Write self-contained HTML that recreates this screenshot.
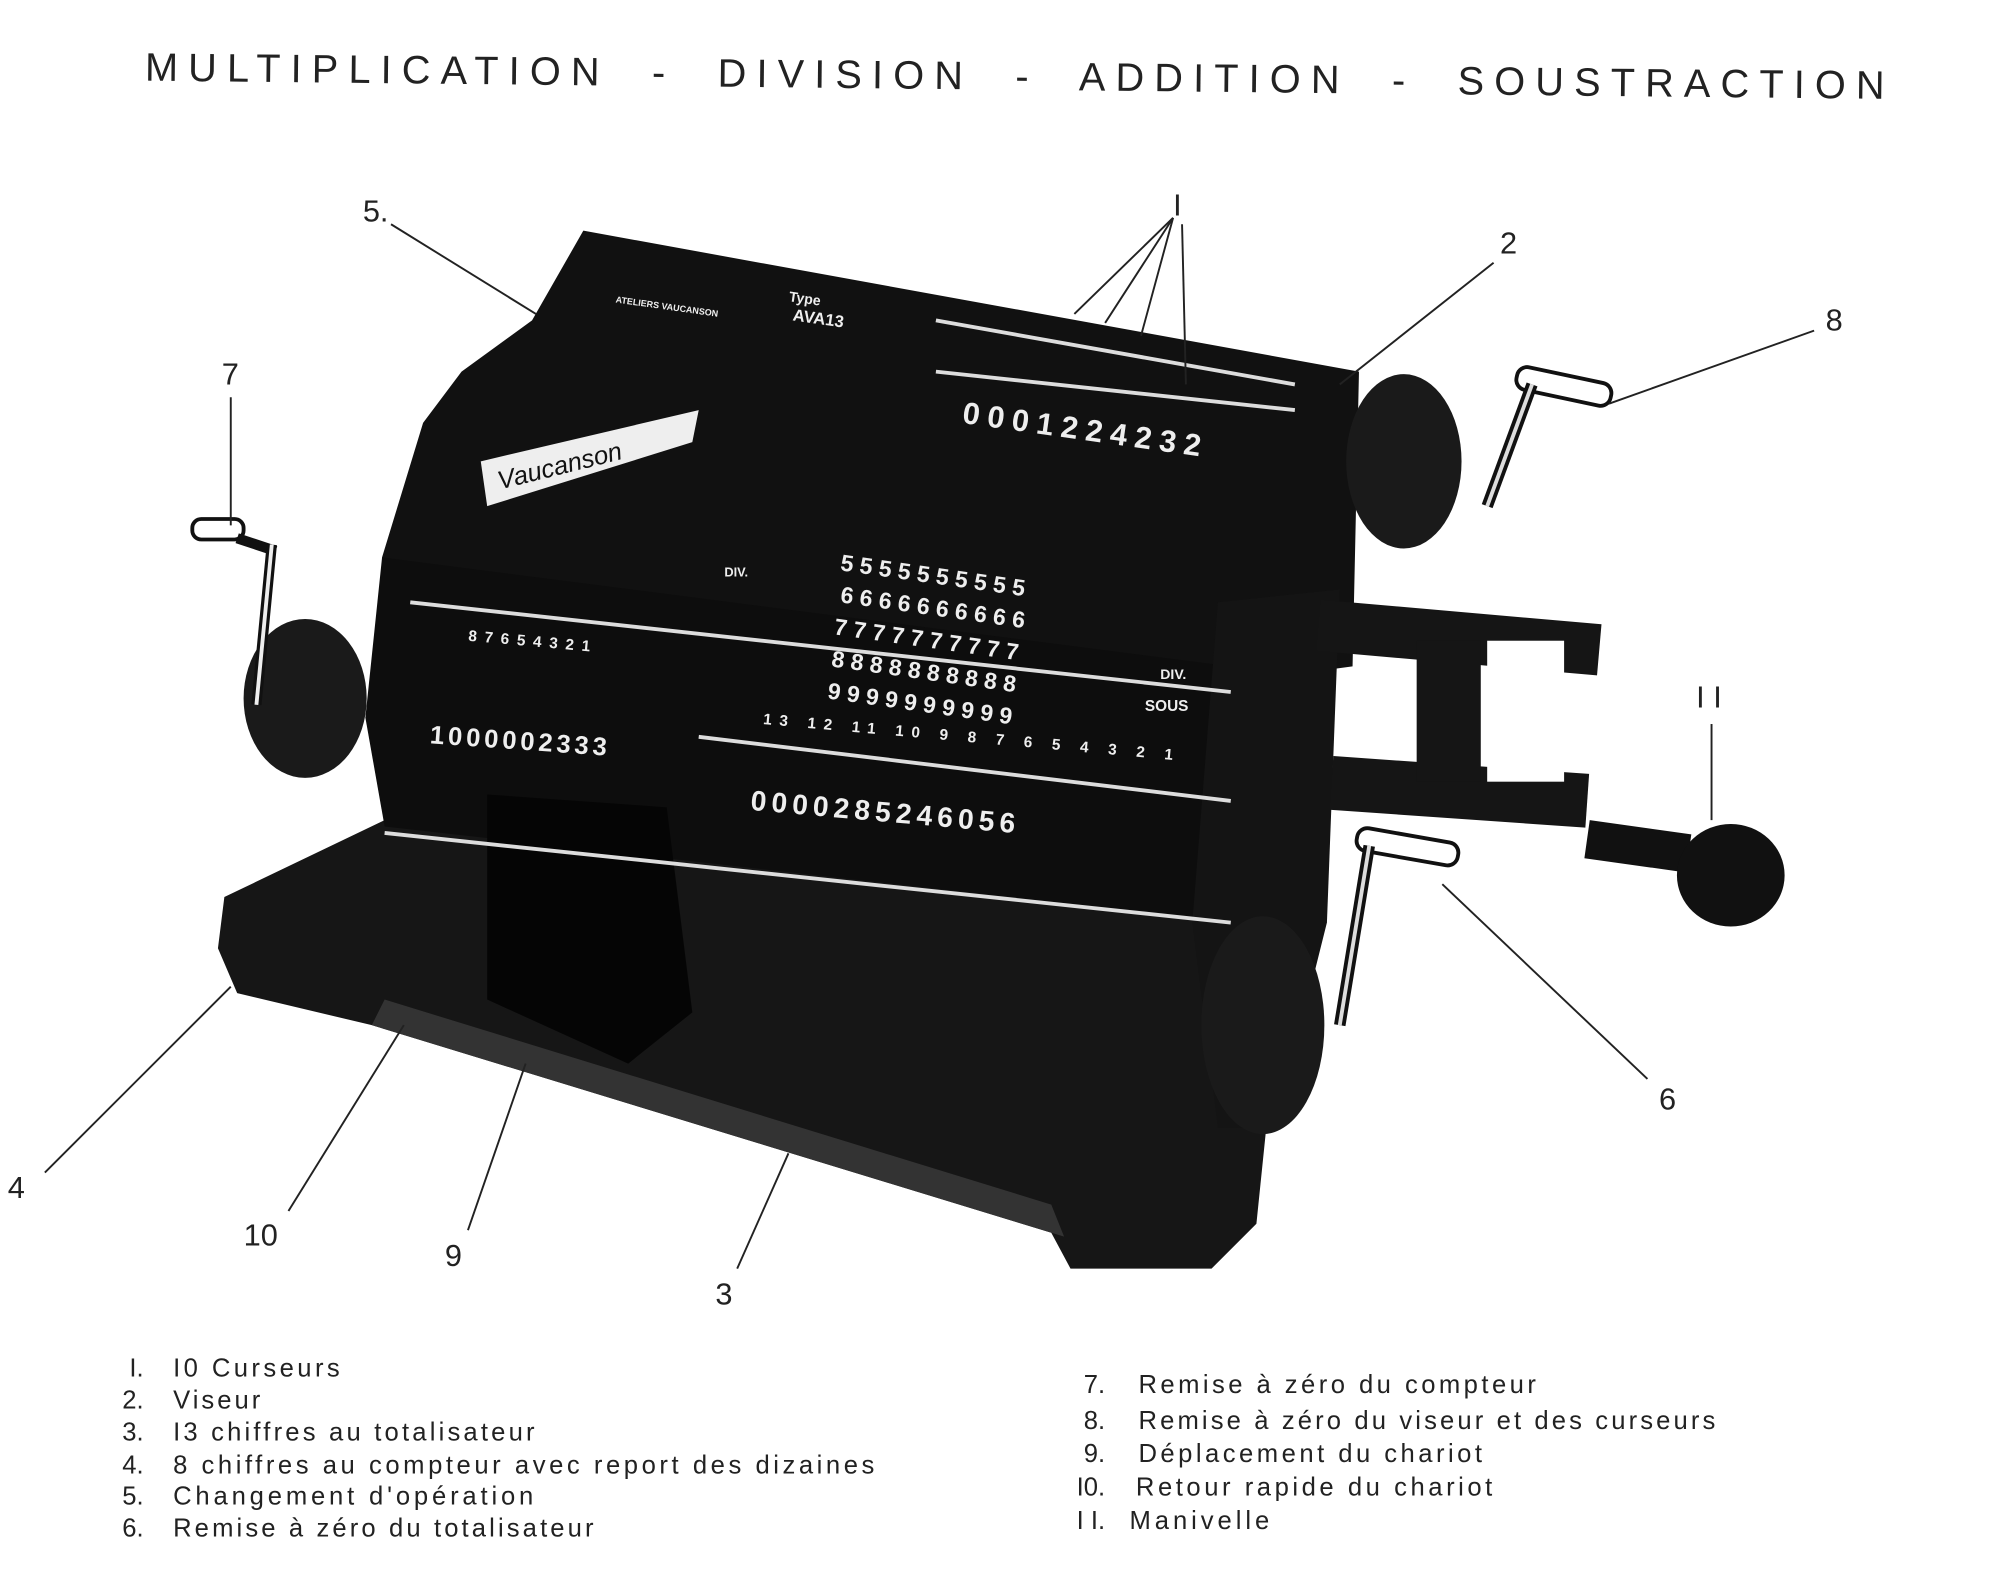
<!DOCTYPE html>
<html><head><meta charset="utf-8"><style>
html,body{margin:0;padding:0;background:#fff}
svg{display:block}
text{font-family:"Liberation Sans",sans-serif}
</style></head><body>
<svg width="2000" height="1589" viewBox="0 0 1560 1240" preserveAspectRatio="none" xmlns="http://www.w3.org/2000/svg">
<rect width="1560" height="1240" fill="#fff"/>
<g transform="rotate(0.6 790 65)">
<text x="113" y="70" font-size="31" textLength="1357" lengthAdjust="spacing" fill="#222" xml:space="preserve">MULTIPLICATION  -  DIVISION  -  ADDITION  -  SOUSTRACTION</text>
</g>
<!-- base -->
<path d="M175,700 L300,640 L960,700 L1000,760 L980,955 L945,990 L835,990 L820,962 L290,800 L185,775 L170,740 Z" fill="#161616"/>
<path d="M300,780 L820,940 L830,965 L290,800 Z" fill="#333"/>
<!-- upper body -->
<path d="M455,180 L1060,290 L1055,520 L870,545 L320,470 L298,435 L330,330 L360,290 L415,250 Z" fill="#111"/>
<path d="M298,435 L960,520 L985,560 L995,640 L965,720 L300,645 L285,560 Z" fill="#0d0d0d"/>
<path d="M950,470 L1045,460 L1035,720 L995,880 L950,880 L930,720 Z" fill="#141414"/>
<ellipse cx="238" cy="545" rx="48" ry="62" fill="#1a1a1a"/>
<ellipse cx="1095" cy="360" rx="45" ry="68" fill="#1a1a1a"/>
<ellipse cx="985" cy="800" rx="48" ry="85" fill="#1a1a1a"/>
<path d="M380,620 L520,630 L540,790 L490,830 L380,780 Z" fill="#050505"/>
<!-- handle 11 -->
<rect x="1030" y="468" width="220" height="40" fill="#151515" transform="rotate(5 1030 468)"/>
<rect x="1040" y="590" width="200" height="42" fill="#151515" transform="rotate(4 1040 590)"/>
<rect x="1105" y="500" width="50" height="110" fill="#151515"/>
<rect x="1160" y="500" width="60" height="110" fill="#fff"/>
<rect x="1240" y="640" width="80" height="30" fill="#111" transform="rotate(8 1240 640)"/>
<ellipse cx="1350" cy="683" rx="42" ry="40" fill="#111"/>
<!-- crank 7 -->
<rect x="150" y="405" width="40" height="16" rx="7" fill="#fff" stroke="#111" stroke-width="3"/>
<line x1="185" y1="420" x2="215" y2="430" stroke="#111" stroke-width="8"/>
<line x1="212" y1="425" x2="200" y2="550" stroke="#111" stroke-width="8"/>
<line x1="212" y1="425" x2="200" y2="550" stroke="#eee" stroke-width="3"/>
<!-- crank 8 -->
<rect x="1185" y="285" width="75" height="18" rx="8" fill="#fff" stroke="#111" stroke-width="3" transform="rotate(12 1185 285)"/>
<line x1="1195" y1="300" x2="1160" y2="395" stroke="#111" stroke-width="9"/>
<line x1="1195" y1="300" x2="1160" y2="395" stroke="#ddd" stroke-width="3"/>
<!-- crank 6 -->
<rect x="1060" y="645" width="80" height="18" rx="8" fill="#fff" stroke="#111" stroke-width="3" transform="rotate(10 1060 645)"/>
<line x1="1068" y1="660" x2="1045" y2="800" stroke="#111" stroke-width="9"/>
<line x1="1068" y1="660" x2="1045" y2="800" stroke="#ddd" stroke-width="3"/>
<!-- details -->
<g fill="#eee" font-weight="bold">
<text x="480" y="236" font-size="7" transform="rotate(8 480 236)">ATELIERS VAUCANSON</text>
<text x="618" y="250" font-size="13" transform="rotate(8 618 250)">AVA13</text>
<text x="615" y="235" font-size="11" transform="rotate(8 615 235)">Type</text>
<text x="750" y="330" font-size="24" letter-spacing="6" transform="rotate(8 750 330)">0001224232</text>
<text x="335" y="580" font-size="20" letter-spacing="3" transform="rotate(4 335 580)">1000002333</text>
<text x="585" y="632" font-size="22" letter-spacing="4" transform="rotate(5 585 632)">0000285246056</text>
<text x="365" y="500" font-size="12" letter-spacing="6" transform="rotate(5 365 500)">87654321</text>
<text x="595" y="565" font-size="12" letter-spacing="6" transform="rotate(5 595 565)">13 12 11 10 9 8 7 6 5 4 3 2 1</text>
<text x="655" y="445" font-size="18" letter-spacing="5" transform="rotate(8 655 445)">5555555555</text>
<text x="655" y="470" font-size="18" letter-spacing="5" transform="rotate(8 655 470)">6666666666</text>
<text x="650" y="495" font-size="18" letter-spacing="5" transform="rotate(8 650 495)">7777777777</text>
<text x="648" y="520" font-size="18" letter-spacing="5" transform="rotate(8 648 520)">8888888888</text>
<text x="645" y="545" font-size="18" letter-spacing="5" transform="rotate(8 645 545)">9999999999</text>
<text x="905" y="530" font-size="11">DIV.</text>
<text x="893" y="555" font-size="12">SOUS</text>
<text x="565" y="450" font-size="10">DIV.</text>
</g>
<path d="M375,360 L545,320 L540,345 L380,395 Z" fill="#eee"/>
<text x="390" y="382" font-size="20" font-style="italic" fill="#111" transform="rotate(-14 390 382)">Vaucanson</text>
<g stroke="#ddd" stroke-width="3">
<line x1="320" y1="470" x2="960" y2="540"/>
<line x1="300" y1="650" x2="960" y2="720"/>
<line x1="545" y1="575" x2="960" y2="625"/>
<line x1="730" y1="250" x2="1010" y2="300"/>
<line x1="730" y1="290" x2="1010" y2="320"/>
</g>
<!-- callouts -->
<g stroke="#222" stroke-width="1.5" fill="none">
<line x1="915" y1="170" x2="838" y2="245"/>
<line x1="915" y1="170" x2="862" y2="252"/>
<line x1="915" y1="170" x2="890" y2="262"/>
<line x1="922" y1="175" x2="925" y2="300"/>
<line x1="1165" y1="205" x2="1045" y2="300"/>
<line x1="305" y1="175" x2="418" y2="245"/>
<line x1="1415" y1="258" x2="1255" y2="315"/>
<line x1="180" y1="310" x2="180" y2="410"/>
<line x1="1335" y1="565" x2="1335" y2="640"/>
<line x1="1285" y1="842" x2="1125" y2="690"/>
<line x1="35" y1="915" x2="180" y2="770"/>
<line x1="225" y1="945" x2="315" y2="800"/>
<line x1="365" y1="960" x2="410" y2="830"/>
<line x1="575" y1="990" x2="615" y2="900"/>
</g>
<g fill="#222" font-size="24">
<text x="915" y="168">I</text>
<text x="1170" y="198">2</text>
<text x="283" y="173">5.</text>
<text x="1424" y="258">8</text>
<text x="173" y="300">7</text>
<text x="1323" y="552">I I</text>
<text x="1294" y="866">6</text>
<text x="6" y="935">4</text>
<text x="190" y="972">10</text>
<text x="347" y="988">9</text>
<text x="558" y="1018">3</text>
</g>
<g fill="#222" font-size="20">
<text x="112" y="1074" text-anchor="end">I.</text><text x="135" y="1074" textLength="130">I0 Curseurs</text>
<text x="112" y="1099" text-anchor="end">2.</text><text x="135" y="1099" textLength="68">Viseur</text>
<text x="112" y="1124" text-anchor="end">3.</text><text x="135" y="1124" textLength="282">I3 chiffres au totalisateur</text>
<text x="112" y="1150" text-anchor="end">4.</text><text x="135" y="1150" textLength="547">8 chiffres au compteur avec report des dizaines</text>
<text x="112" y="1174" text-anchor="end">5.</text><text x="135" y="1174" textLength="281">Changement d'opération</text>
<text x="112" y="1199" text-anchor="end">6.</text><text x="135" y="1199" textLength="328">Remise à zéro du totalisateur</text>
<text x="862" y="1087" text-anchor="end">7.</text><text x="888" y="1087" textLength="310">Remise à zéro du compteur</text>
<text x="862" y="1115" text-anchor="end">8.</text><text x="888" y="1115" textLength="450">Remise à zéro du viseur et des curseurs</text>
<text x="862" y="1141" text-anchor="end">9.</text><text x="888" y="1141" textLength="268">Déplacement du chariot</text>
<text x="862" y="1167" text-anchor="end">I0.</text><text x="886" y="1167" textLength="278">Retour rapide du chariot</text>
<text x="862" y="1193" text-anchor="end">I I.</text><text x="881" y="1193" textLength="109">Manivelle</text>
</g>
</svg>
</body></html>
